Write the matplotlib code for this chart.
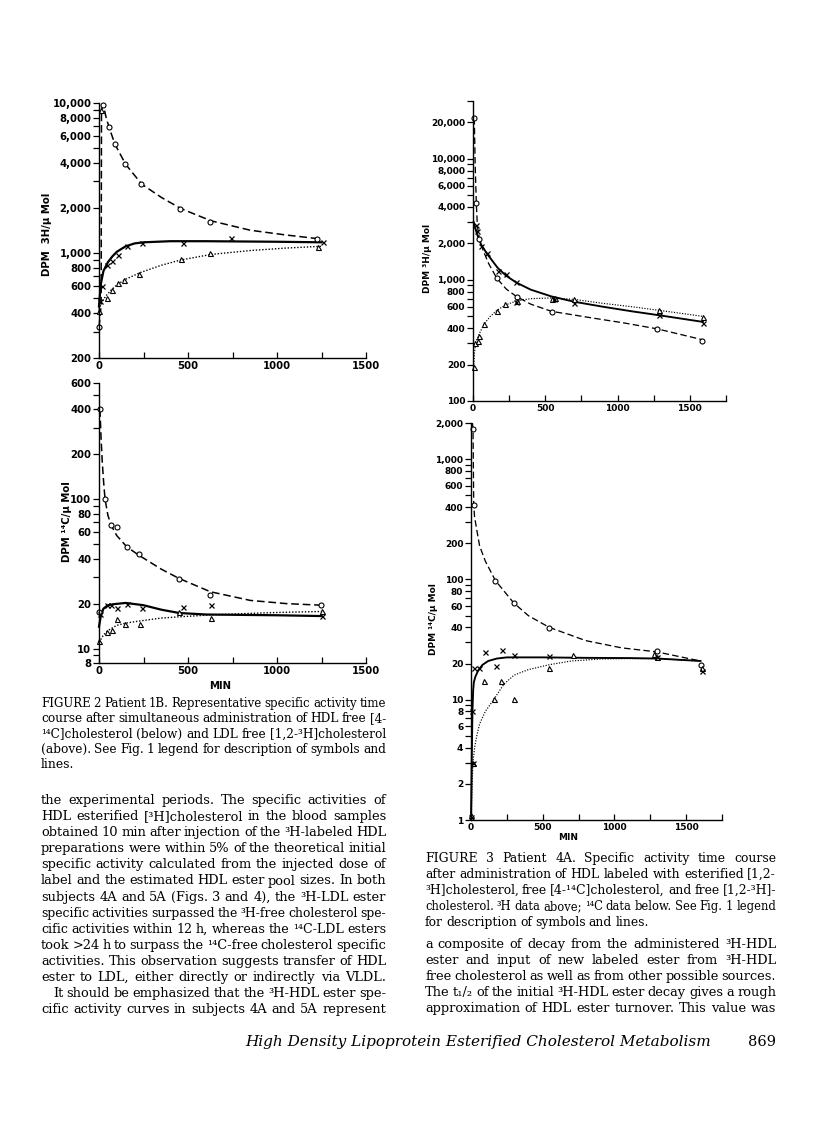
import matplotlib
matplotlib.use("Agg")
import matplotlib.pyplot as plt
from matplotlib.ticker import FixedLocator, NullFormatter
from matplotlib.transforms import IdentityTransform

W, H = 816, 1122

# ---- Figure 2, patient 1B, 3H panel (top left) ----
lt_circ_t = [0, 24, 58, 90, 147, 237, 457, 626, 1227]
lt_circ_v = [320, 9750, 6900, 5300, 3950, 2900, 1960, 1620, 1240]
lt_x_t = [5, 15, 47, 71, 105, 156, 240, 470, 742, 1256]
lt_x_v = [480, 600, 830, 890, 965, 1120, 1160, 1160, 1260, 1180]
lt_tri_t = [0, 14, 47, 71, 105, 143, 226, 460, 626, 1233]
lt_tri_v = [410, 9000, 500, 565, 630, 665, 730, 910, 1000, 1090]
lt_dash_t = [0, 12, 14, 24, 40, 60, 90, 150, 240, 350, 460, 630, 850, 1050, 1250]
lt_dash_v = [320, 450, 9000, 9750, 8000, 6700, 5300, 3900, 2880, 2350, 1980, 1640, 1420, 1320, 1240]
lt_solid_t = [0, 10, 25, 50, 75, 100, 150, 200, 250, 400, 600, 800, 1000, 1250]
lt_solid_v = [440, 620, 760, 870, 950, 1020, 1110, 1160, 1180, 1200, 1200, 1195, 1190, 1180]
lt_dot_t = [0, 15, 40, 70, 105, 150, 230, 350, 460, 630, 850, 1050, 1250]
lt_dot_v = [420, 470, 520, 570, 620, 670, 740, 830, 900, 980, 1040, 1080, 1110]

# ---- Figure 2, 14C panel (bottom left) ----
lb_circ_t = [0, 5, 34, 68, 100, 156, 226, 449, 626, 1246]
lb_circ_v = [17.5, 400, 100, 67, 65, 48, 43, 29, 23, 19.7]
lb_x_t = [3, 47, 68, 100, 156, 240, 470, 630, 1252]
lb_x_v = [17, 19.7, 19.7, 18.8, 20, 18.8, 19, 19.6, 16.6]
lb_tri_t = [0, 47, 71, 100, 148, 231, 449, 630, 1252]
lb_tri_v = [11.2, 13, 13.3, 15.8, 14.6, 14.6, 17.5, 16.1, 17.8]
lb_dash_t = [5, 8, 12, 18, 26, 34, 50, 68, 100, 156, 226, 350, 449, 626, 850, 1050, 1250]
lb_dash_v = [400, 330, 250, 180, 130, 100, 78, 67, 57, 48, 42, 34, 29.5, 24, 21, 20, 19.5]
lb_solid_t = [0, 10, 25, 50, 80, 150, 250, 350, 450, 600, 800, 1000, 1250]
lb_solid_v = [14, 16.5, 18.5, 19.5, 19.8, 20.2, 19.5, 18.2, 17.3, 16.9, 16.8, 16.7, 16.5]
lb_dot_t = [0, 25, 50, 100, 150, 230, 350, 450, 630, 850, 1050, 1250]
lb_dot_v = [11, 12.3, 13.2, 14.3, 14.8, 15.3, 16, 16.3, 16.8, 17.2, 17.5, 17.7]

# ---- Figure 3, patient 4A, 3H panel (top right) ----
rt_circ_t = [9, 23, 44, 165, 302, 543, 1275, 1585]
rt_circ_v = [21700, 4300, 2180, 1030, 728, 547, 394, 313]
rt_x_t = [23, 30, 57, 96, 170, 229, 295, 300, 559, 700, 1290, 1590]
rt_x_v = [2850, 2550, 1920, 1660, 1190, 1110, 960, 660, 700, 650, 510, 440]
rt_tri_t = [9, 16, 32, 44, 78, 165, 224, 302, 543, 565, 700, 1290, 1590]
rt_tri_v = [192, 303, 310, 345, 433, 558, 630, 674, 700, 710, 690, 560, 498]
rt_dash_t = [9, 15, 23, 30, 44, 70, 110, 165, 230, 300, 400, 543, 800, 1050, 1275, 1590]
rt_dash_v = [21700, 9000, 4300, 2800, 2200, 1750, 1350, 1030, 840, 730, 630, 550, 490, 440, 394, 320]
rt_solid_t = [5, 15, 30, 57, 96, 170, 230, 300, 400, 543, 700, 900, 1100, 1290, 1590]
rt_solid_v = [3000, 2700, 2350, 1950, 1650, 1260, 1080, 950, 830, 730, 660, 600, 550, 510, 450]
rt_dot_t = [5, 10, 20, 44, 78, 120, 165, 224, 300, 400, 550, 700, 900, 1100, 1290, 1590]
rt_dot_v = [190, 250, 310, 360, 435, 500, 560, 620, 670, 700, 710, 690, 640, 600, 560, 500]

# ---- Figure 3, 14C panel (bottom right) ----
rb_circ_t = [14, 19, 170, 297, 545, 1295, 1603]
rb_circ_v = [1800, 414, 98, 64, 39.5, 25.6, 19.6]
rb_x_t = [0, 5, 14, 23, 53, 95, 174, 216, 297, 545, 1300, 1608]
rb_x_v = [1.05, 8, 3, 18.4, 18.4, 25, 19, 25.8, 23.7, 23, 22.7, 17.2]
rb_tri_t = [2, 14, 93, 162, 211, 297, 545, 710, 1276, 1300, 1608]
rb_tri_v = [1.1, 3, 14.2, 10.1, 14.2, 10.1, 18.4, 23.7, 24.1, 22.7, 18.4]
rb_dash_t = [10, 14, 19, 25, 40, 60, 100, 170, 297, 400, 545, 800, 1050, 1295, 1600]
rb_dash_v = [2000, 1800, 414, 330, 260, 190, 142, 98, 64, 50, 40, 31, 27, 25, 21]
rb_solid_t = [0, 5, 10, 15, 20, 30, 50, 80, 120, 180, 250, 300, 500, 800, 1100, 1300, 1600]
rb_solid_v = [1, 3, 8, 12, 14, 15.5, 17.5, 19.5, 21, 22, 22.5, 22.5, 22.5, 22.3, 22.2, 22, 21]
rb_dot_t = [0, 8, 14, 25, 40, 60, 100, 160, 230, 300, 400, 550, 700, 900, 1100, 1300, 1600]
rb_dot_v = [1, 2, 3, 4, 5, 6.3, 8, 10.1, 13.5, 16, 17.8, 19.6, 21, 21.8, 22, 22, 21]

# tick labels
lt_yt = [200, 400, 600, 800, 1000, 2000, 4000, 6000, 8000, 10000]
lb_yt = [8, 10, 20, 40, 60, 80, 100, 200, 400, 600]
rt_yt = [100, 200, 400, 600, 800, 1000, 2000, 4000, 6000, 8000, 10000, 20000]
rb_yt = [1, 2, 4, 6, 8, 10, 20, 40, 60, 80, 100, 200, 400, 600, 800, 1000, 2000]

cap2 = [
    "FIGURE 2   Patient 1B. Representative specific activity time",
    "course after simultaneous administration of HDL free [4-",
    "¹⁴C]cholesterol (below) and LDL free [1,2-³H]cholesterol",
    "(above). See Fig. 1 legend for description of symbols and",
    "lines.",
]
body_left = [
    "the experimental periods. The specific activities of",
    "HDL esterified [³H]cholesterol in the blood samples",
    "obtained 10 min after injection of the ³H-labeled HDL",
    "preparations were within 5% of the theoretical initial",
    "specific activity calculated from the injected dose of",
    "label and the estimated HDL ester pool sizes. In both",
    "subjects 4A and 5A (Figs. 3 and 4), the ³H-LDL ester",
    "specific activities surpassed the ³H-free cholesterol spe-",
    "cific activities within 12 h, whereas the ¹⁴C-LDL esters",
    "took >24 h to surpass the ¹⁴C-free cholesterol specific",
    "activities. This observation suggests transfer of HDL",
    "ester to LDL, either directly or indirectly via VLDL.",
    "It should be emphasized that the ³H-HDL ester spe-",
    "cific activity curves in subjects 4A and 5A represent",
]
cap3 = [
    "FIGURE 3   Patient 4A. Specific activity time course",
    "after administration of HDL labeled with esterified [1,2-",
    "³H]cholesterol, free [4-¹⁴C]cholesterol, and free [1,2-³H]-",
    "cholesterol. ³H data above; ¹⁴C data below. See Fig. 1 legend",
    "for description of symbols and lines.",
]
body_right = [
    "a composite of decay from the administered ³H-HDL",
    "ester and input of new labeled ester from ³H-HDL",
    "free cholesterol as well as from other possible sources.",
    "The t₁/₂ of the initial ³H-HDL ester decay gives a rough",
    "approximation of HDL ester turnover. This value was",
]

fig = plt.figure(figsize=(W / 100, H / 100), dpi=100)
fig.patch.set_facecolor('white')
tickfont = dict(family='DejaVu Sans', weight='bold')


def px_axes(x0, x1, ytop, ybot):
    return fig.add_axes([x0 / W, (H - ybot) / H, (x1 - x0) / W, (ybot - ytop) / H])


def fmt(v):
    return f"{v:,}"


def setup(ax, xmax, ylim, yt, fs):
    ax.set_yscale('log')
    ax.set_xlim(0, xmax)
    ax.set_ylim(*ylim)
    for s in ['top', 'right']:
        ax.spines[s].set_visible(False)
    for s in ['left', 'bottom']:
        ax.spines[s].set_linewidth(1.0)
    ax.set_yticks(yt, [fmt(v) for v in yt])
    minors = []
    dec = 1
    while dec < ylim[1] * 10:
        for m in range(2, 10):
            v = m * dec
            if ylim[0] <= v <= ylim[1] * 1.01 and v not in yt:
                minors.append(v)
        dec *= 10
    ax.yaxis.set_minor_locator(FixedLocator(minors))
    ax.yaxis.set_minor_formatter(NullFormatter())
    ax.set_xticks([0, 500, 1000, 1500], ['0', '500', '1000', '1500'])
    ax.xaxis.set_minor_locator(FixedLocator([t for t in range(250, xmax + 1, 250) if t % 500]))
    ax.tick_params(axis='y', which='both', direction='out', length=4, width=0.9, pad=1.5)
    ax.tick_params(axis='x', which='both', direction='in', length=4, width=0.9, pad=2)
    for lab in ax.get_yticklabels() + ax.get_xticklabels():
        lab.set_fontsize(fs)
        lab.set_fontfamily(tickfont['family'])
        lab.set_fontweight(tickfont['weight'])


def draw(ax, dash, solid, dot, circ, cross, tri, lw=1.0):
    ax.plot(*dash, color='k', lw=1.1 * lw, ls=(0, (5, 2.5)), clip_on=False)
    ax.plot(*solid, color='k', lw=1.6 * lw, clip_on=False)
    ax.plot(*dot, color='k', lw=1.0 * lw, ls=(0, (1, 1.3)), clip_on=False)
    ax.plot(*circ, 'o', ms=3.6, mfc='white', mec='k', mew=0.8, clip_on=False)
    ax.plot(*tri, '^', ms=3.6, mfc='white', mec='k', mew=0.8, clip_on=False)
    ax.plot(*cross, 'x', ms=3.6, mec='k', mew=0.9, clip_on=False)


ax1 = px_axes(99, 366, 103, 358)
setup(ax1, 1500, (200, 10000), lt_yt, 7.3)
draw(ax1, (lt_dash_t, lt_dash_v), (lt_solid_t, lt_solid_v), (lt_dot_t, lt_dot_v),
     (lt_circ_t, lt_circ_v), (lt_x_t, lt_x_v), (lt_tri_t, lt_tri_v))

ax2 = px_axes(99, 366, 383, 663)
setup(ax2, 1500, (8, 600), lb_yt, 7.3)
draw(ax2, (lb_dash_t, lb_dash_v), (lb_solid_t, lb_solid_v), (lb_dot_t, lb_dot_v),
     (lb_circ_t, lb_circ_v), (lb_x_t, lb_x_v), (lb_tri_t, lb_tri_v))

ax3 = px_axes(473, 726, 101, 401)
setup(ax3, 1750, (100, 30000), rt_yt, 6.5)
draw(ax3, (rt_dash_t, rt_dash_v), (rt_solid_t, rt_solid_v), (rt_dot_t, rt_dot_v),
     (rt_circ_t, rt_circ_v), (rt_x_t, rt_x_v), (rt_tri_t, rt_tri_v), lw=0.85)

ax4 = px_axes(471, 722, 423, 820)
setup(ax4, 1750, (1, 2000), rb_yt, 6.5)
draw(ax4, (rb_dash_t, rb_dash_v), (rb_solid_t, rb_solid_v), (rb_dot_t, rb_dot_v),
     (rb_circ_t, rb_circ_v), (rb_x_t, rb_x_v), (rb_tri_t, rb_tri_v), lw=0.85)

ident = IdentityTransform()


def ptext(x, y, s, **kw):
    return fig.text(x, H - y, s, transform=ident, **kw)


# axis titles
ptext(47, 234, "DPM  3H/μ Mol", rotation=90, ha='center', va='center', fontsize=7.3, **tickfont)
ptext(67, 522, "DPM ¹⁴C/μ Mol", rotation=90, ha='center', va='center', fontsize=7.3, **tickfont)
ptext(428, 258, "DPM ³H/μ Mol", rotation=90, ha='center', va='center', fontsize=6.5, **tickfont)
ptext(433, 619, "DPM ¹⁴C/μ Mol", rotation=90, ha='center', va='center', fontsize=6.5, **tickfont)
ptext(220, 686, "MIN", ha='center', va='center', fontsize=7.3, **tickfont)
ptext(568, 837, "MIN", ha='center', va='center', fontsize=6.5, **tickfont)

renderer = fig.canvas.get_renderer()
serif = ['DejaVu Serif']


def put_line(line, x0, x1, y, size, justify=True):
    words = line.split()
    texts = [ptext(0, y, w, fontsize=size, family=serif, va='baseline') for w in words]
    while True:
        widths = [t.get_window_extent(renderer).width for t in texts]
        if justify and len(words) > 1:
            gap = (x1 - x0 - sum(widths)) / (len(words) - 1)
        else:
            gap = size * 0.35
        # squeeze the type a little when a line will not fit with real spaces
        if gap >= size * 0.3 or size < 7:
            break
        size -= 0.15
        for t in texts:
            t.set_fontsize(size)
    x = x0
    for t, w in zip(texts, widths):
        t.set_x(x)
        x += w + gap


def put_block(lines, x0, x1, y0, dy, size, last_ragged=False, indents=None):
    for i, line in enumerate(lines):
        ind = indents.get(i, 0) if indents else 0
        ragged = last_ragged and i == len(lines) - 1
        put_line(line, x0 + ind, x1, y0 + i * dy, size, justify=not ragged)


put_block(cap2, 41, 386, 707, 15.3, 8.9, last_ragged=True)
put_block(body_left, 41, 386, 804, 16.1, 9.4, indents={12: 12})
put_block(cap3, 425, 776, 862, 16.0, 8.9, last_ragged=True)
put_block(body_right, 425, 776, 948, 16.0, 9.4)

ptext(245, 1046, "High Density Lipoprotein Esterified Cholesterol Metabolism",
      fontsize=11, family=serif, style='italic', va='baseline')
ptext(776, 1046, "869", fontsize=10.5, family=serif, ha='right', va='baseline')

fig.savefig('out.png', dpi=100, facecolor='white')
